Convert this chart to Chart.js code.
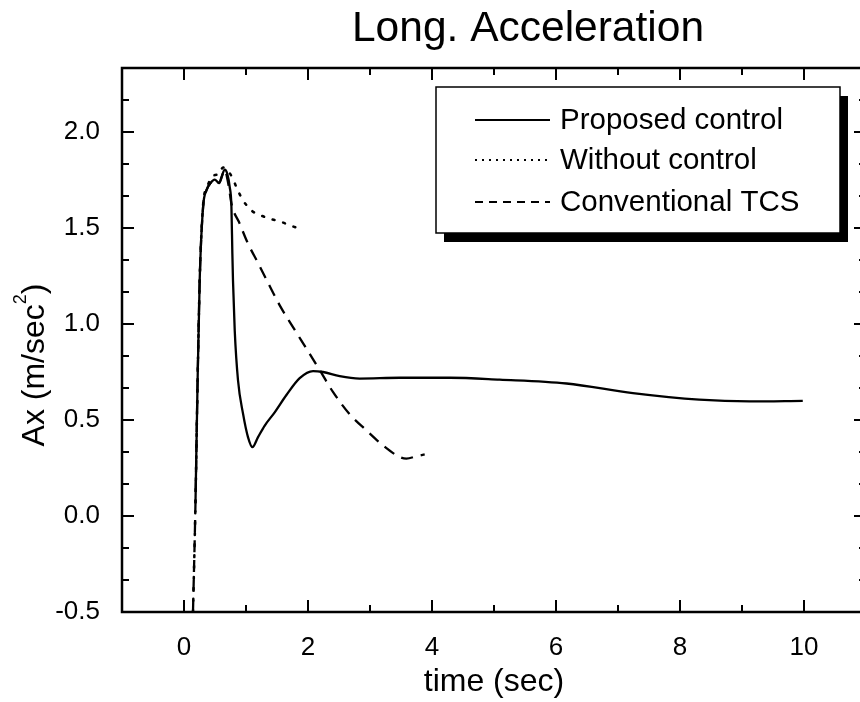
<!DOCTYPE html>
<html>
<head>
<meta charset="utf-8">
<script src="https://cdn.jsdelivr.net/npm/chart.js@4.4.1/dist/chart.umd.min.js"></script>
<style>
  html, body { margin: 0; padding: 0; background: #fff; overflow: hidden; }
  #wrap { width: 860px; height: 702px; overflow: hidden; }
  #box { width: 880px; height: 702px; }
</style>
</head>
<body>
<div id="wrap"><div id="box"><canvas id="chart"></canvas></div></div>
<script>
// time (sec) / Ax (m/sec^2)
const proposedT  = [0.185, 0.216, 0.253, 0.308, 0.361, 0.43, 0.495, 0.565, 0.61, 0.656, 0.70, 0.737, 0.765, 0.78, 0.79, 0.818, 0.871, 0.952, 1.032, 1.103, 1.194, 1.30, 1.463, 1.652, 1.866, 2.081, 2.242, 2.511, 2.834, 3.48, 4.29, 5.09, 6.17, 7.24, 8.31, 9.12, 9.98];
const proposedAx = [0.065, 0.646, 1.227, 1.61, 1.696, 1.735, 1.752, 1.734, 1.77, 1.804, 1.78, 1.714, 1.609, 1.367, 1.228, 0.967, 0.707, 0.533, 0.411, 0.359, 0.411, 0.47, 0.54, 0.63, 0.718, 0.755, 0.75, 0.728, 0.716, 0.72, 0.72, 0.71, 0.69, 0.64, 0.606, 0.597, 0.60];

const withoutT  = [0.145, 0.185, 0.216, 0.253, 0.308, 0.37, 0.484, 0.56, 0.629, 0.70, 0.774, 0.855, 0.952, 1.097, 1.205, 1.382, 1.571, 1.742, 1.93];
const withoutAx = [-0.5, 0.065, 0.646, 1.227, 1.62, 1.71, 1.774, 1.78, 1.815, 1.80, 1.766, 1.705, 1.644, 1.589, 1.57, 1.549, 1.531, 1.51, 1.49];

const tcsT  = [0.145, 0.185, 0.216, 0.253, 0.308, 0.361, 0.43, 0.495, 0.565, 0.656, 0.72, 0.765, 0.898, 1.032, 1.194, 1.355, 1.544, 1.758, 1.974, 2.19, 2.405, 2.673, 2.942, 3.21, 3.48, 3.587, 3.748, 3.882];
const tcsAx = [-0.5, 0.065, 0.646, 1.227, 1.61, 1.696, 1.735, 1.752, 1.734, 1.80, 1.72, 1.627, 1.523, 1.419, 1.318, 1.215, 1.097, 0.984, 0.872, 0.759, 0.645, 0.53, 0.446, 0.368, 0.307, 0.299, 0.311, 0.321];

const seriesNames = ['Proposed control', 'Without control', 'Conventional TCS'];

const xTicks = [0, 2, 4, 6, 8, 10];
const xMinor = [1, 3, 5, 7, 9];
const yTicks = [-0.5, 0, 0.5, 1.0, 1.5, 2.0];
const yMinor = [-0.3333, -0.1667, 0.1667, 0.3333, 0.6667, 0.8333, 1.1667, 1.3333, 1.6667, 1.8333, 2.1667];

const FONT = "'Liberation Sans', Arial, Helvetica, sans-serif";

const zip = (t, v) => t.map((x, i) => ({ x: x, y: v[i] }));

const dashes = [[], [2, 9], [12, 8]];
const legendDashes = [[], [2, 5], [8, 6]];

// frame with inward ticks on all sides, legend box, titles
const framePlugin = {
    id: 'frame',
    afterDatasetsDraw(chart) {
        const { ctx, chartArea: a, scales: { x, y } } = chart;
        ctx.save();
        ctx.strokeStyle = '#000';
        ctx.lineWidth = 2.5;
        ctx.strokeRect(a.left, a.top, a.right - a.left, a.bottom - a.top);

        ctx.lineWidth = 2;
        ctx.beginPath();
        const xTick = (v, len) => {
            const px = x.getPixelForValue(v);
            ctx.moveTo(px, a.bottom); ctx.lineTo(px, a.bottom - len);
            ctx.moveTo(px, a.top); ctx.lineTo(px, a.top + len);
        };
        const yTick = (v, len) => {
            const py = y.getPixelForValue(v);
            ctx.moveTo(a.left, py); ctx.lineTo(a.left + len, py);
            ctx.moveTo(a.right, py); ctx.lineTo(a.right - len, py);
        };
        xTicks.forEach(v => xTick(v, 12));
        xMinor.forEach(v => xTick(v, 7));
        yTicks.forEach(v => yTick(v, 12));
        yMinor.forEach(v => yTick(v, 7));
        ctx.stroke();

        // legend
        const lx = 436, ly = 87, lw = 404, lh = 146;
        ctx.fillStyle = '#000';
        ctx.fillRect(lx + 8, ly + 9, lw, lh);
        ctx.fillStyle = '#fff';
        ctx.fillRect(lx, ly, lw, lh);
        ctx.lineWidth = 1.5;
        ctx.strokeRect(lx, ly, lw, lh);
        const rows = [120, 160, 202];
        ctx.font = '29.5px ' + FONT;
        ctx.textBaseline = 'middle';
        ctx.textAlign = 'left';
        seriesNames.forEach((name, i) => {
            ctx.beginPath();
            ctx.lineWidth = 2;
            ctx.setLineDash(legendDashes[i]);
            ctx.moveTo(475, rows[i]);
            ctx.lineTo(550, rows[i]);
            ctx.stroke();
            ctx.setLineDash([]);
            ctx.fillStyle = '#000';
            ctx.fillText(name, 560, rows[i] + 1);
        });

        // chart title
        ctx.font = '42.5px ' + FONT;
        ctx.textAlign = 'center';
        ctx.textBaseline = 'alphabetic';
        ctx.fillText('Long. Acceleration', 528, 41);

        // y axis title with superscript
        ctx.translate(43.5, 365);
        ctx.rotate(-Math.PI / 2);
        const big = '32px ' + FONT, small = '18px ' + FONT;
        ctx.font = big;
        const w1 = ctx.measureText('Ax (m/sec').width;
        const w3 = ctx.measureText(')').width;
        ctx.font = small;
        const w2 = ctx.measureText('2').width;
        let sx = -(w1 + w2 + w3) / 2;
        ctx.textAlign = 'left';
        ctx.font = big;
        ctx.fillText('Ax (m/sec', sx, 0);
        ctx.font = small;
        ctx.fillText('2', sx + w1, -18);
        ctx.font = big;
        ctx.fillText(')', sx + w1 + w2, 0);
        ctx.restore();
    }
};

new Chart(document.getElementById('chart'), {
    type: 'line',
    data: {
        datasets: [
            { label: seriesNames[0], data: zip(proposedT, proposedAx) },
            { label: seriesNames[1], data: zip(withoutT, withoutAx) },
            { label: seriesNames[2], data: zip(tcsT, tcsAx) },
        ].map((d, i) => Object.assign(d, {
            borderColor: '#000',
            borderWidth: i === 1 ? 2.5 : 2.3,
            borderDash: dashes[i],
            borderCapStyle: i === 1 ? 'round' : 'butt',
            pointRadius: 0,
            fill: false,
            cubicInterpolationMode: 'monotone',
        })),
    },
    options: {
        responsive: true,
        maintainAspectRatio: false,
        animation: false,
        layout: { padding: { top: 68, right: 14, left: 0, bottom: 0 } },
        plugins: {
            legend: { display: false },
            title: { display: false },
            tooltip: { enabled: false },
        },
        scales: {
            x: {
                type: 'linear',
                min: -1,
                max: 11,
                grid: { display: false },
                border: { display: false },
                afterBuildTicks: s => { s.ticks = xTicks.map(v => ({ value: v })); },
                afterFit: s => { s.height = 90; },
                ticks: {
                    color: '#000',
                    padding: 12,
                    font: { family: FONT, size: 26 },
                    callback: v => String(v),
                },
                title: {
                    display: true,
                    text: 'time (sec)',
                    color: '#000',
                    font: { family: FONT, size: 32 },
                    padding: { top: 4, bottom: 1 },
                },
            },
            y: {
                type: 'linear',
                min: -0.5,
                max: 2.3333,
                grid: { display: false },
                border: { display: false },
                afterBuildTicks: s => { s.ticks = yTicks.map(v => ({ value: v })); },
                afterFit: s => { s.width = 122; },
                ticks: {
                    color: '#000',
                    padding: 14,
                    font: { family: FONT, size: 26 },
                    callback: v => v.toFixed(1),
                },
            },
        },
    },
    plugins: [framePlugin],
});
</script>
</body>
</html>
